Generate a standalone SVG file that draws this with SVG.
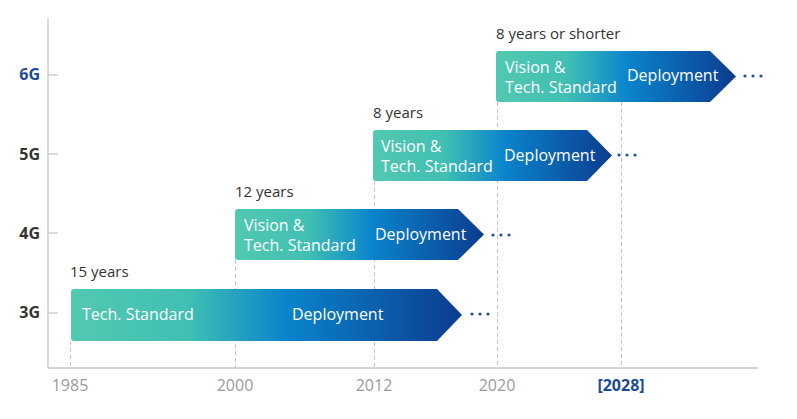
<svg xmlns="http://www.w3.org/2000/svg" width="797" height="419" viewBox="0 0 797 419">
<style>
.ax{stroke:#c6c6c6;stroke-width:1.3;fill:none}
.dash{stroke:#c2c2c2;stroke-width:1;stroke-dasharray:4 3;fill:none}
.gl{font-family:"Open Sans","Noto Sans",sans-serif;font-size:16px;font-weight:bold;fill:#333;text-anchor:end}
.yr{font-family:"Open Sans","Noto Sans",sans-serif;font-size:16px;fill:#9a9a9a;text-anchor:middle}
.dur{font-family:"Open Sans","Noto Sans",sans-serif;font-size:15px;fill:#333}
.bt{font-family:"Open Sans","Noto Sans",sans-serif;font-size:16px;fill:#ffffff}
.dot{fill:#1f4e9c}
</style>
<defs>
<linearGradient id="g" x1="0" y1="0" x2="1" y2="0">
<stop offset="0" stop-color="#52c9b0"/>
<stop offset="0.3" stop-color="#40bfb3"/>
<stop offset="0.55" stop-color="#0a84cc"/>
<stop offset="1" stop-color="#0b3c8f"/>
</linearGradient>
</defs>
<g id="axes">
<line class="ax" x1="48" y1="18" x2="48" y2="368"/>
<line class="ax" x1="48" y1="368" x2="758" y2="368"/>
<line class="ax" x1="48" y1="75" x2="58" y2="75"/>
<line class="ax" x1="48" y1="154" x2="58" y2="154"/>
<line class="ax" x1="48" y1="233" x2="58" y2="233"/>
<line class="ax" x1="48" y1="313" x2="58" y2="313"/>
<text class="gl" x="40" y="80" style="fill:#1b4a9a">6G</text>
<text class="gl" x="40" y="160">5G</text>
<text class="gl" x="40" y="239">4G</text>
<text class="gl" x="40" y="318">3G</text>
<text class="yr" x="70" y="391">1985</text>
<text class="yr" x="235" y="391">2000</text>
<text class="yr" x="374" y="391">2012</text>
<text class="yr" x="497" y="391">2020</text>
<text class="yr" x="621" y="391" style="fill:#1b4a9a;font-weight:bold">[2028]</text>
</g>
<g id="connectors">
<line class="dash" x1="70.5" y1="341" x2="70.5" y2="368"/>
<line class="dash" x1="235.5" y1="260" x2="235.5" y2="368"/>
<line class="dash" x1="374.5" y1="181" x2="374.5" y2="368"/>
<line class="dash" x1="497.5" y1="102" x2="497.5" y2="368"/>
<line class="dash" x1="621.5" y1="102" x2="621.5" y2="368"/>
</g>
<g id="g3">
<path fill="url(#g)" d="M74,289 H437 L462,315 L437,341 H74 Q71,341 71,338 V292 Q71,289 74,289 Z"/>
<text class="bt" x="82" y="320">Tech. Standard</text>
<text class="bt" x="292" y="320">Deployment</text>
<text class="dur" x="70" y="277">15 years</text>
<circle class="dot" cx="472" cy="314" r="1.6"/>
<circle class="dot" cx="480" cy="314" r="1.6"/>
<circle class="dot" cx="488" cy="314" r="1.6"/>
</g>
<g id="g4">
<path fill="url(#g)" d="M238,209 H458 L484,234.5 L458,260 H238 Q235,260 235,257 V212 Q235,209 238,209 Z"/>
<text class="bt" x="244" y="231">Vision &amp;</text>
<text class="bt" x="244" y="251">Tech. Standard</text>
<text class="bt" x="375" y="240">Deployment</text>
<text class="dur" x="235" y="197">12 years</text>
<circle class="dot" cx="493" cy="235" r="1.6"/>
<circle class="dot" cx="501" cy="235" r="1.6"/>
<circle class="dot" cx="509" cy="235" r="1.6"/>
</g>
<g id="g5">
<path fill="url(#g)" d="M376,130 H587 L612,155.5 L587,181 H376 Q373,181 373,178 V133 Q373,130 376,130 Z"/>
<text class="bt" x="381" y="152">Vision &amp;</text>
<text class="bt" x="381" y="172">Tech. Standard</text>
<text class="bt" x="504" y="161">Deployment</text>
<text class="dur" x="373" y="118">8 years</text>
<circle class="dot" cx="619" cy="155" r="1.6"/>
<circle class="dot" cx="627" cy="155" r="1.6"/>
<circle class="dot" cx="635" cy="155" r="1.6"/>
</g>
<g id="g6">
<path fill="url(#g)" d="M499,51 H710 L736,76.5 L710,102 H499 Q496,102 496,99 V54 Q496,51 499,51 Z"/>
<text class="bt" x="505" y="73">Vision &amp;</text>
<text class="bt" x="505" y="93">Tech. Standard</text>
<text class="bt" x="627" y="81">Deployment</text>
<text class="dur" x="496" y="39">8 years or shorter</text>
<circle class="dot" cx="745" cy="76" r="1.6"/>
<circle class="dot" cx="753" cy="76" r="1.6"/>
<circle class="dot" cx="761" cy="76" r="1.6"/>
</g>
</svg>
